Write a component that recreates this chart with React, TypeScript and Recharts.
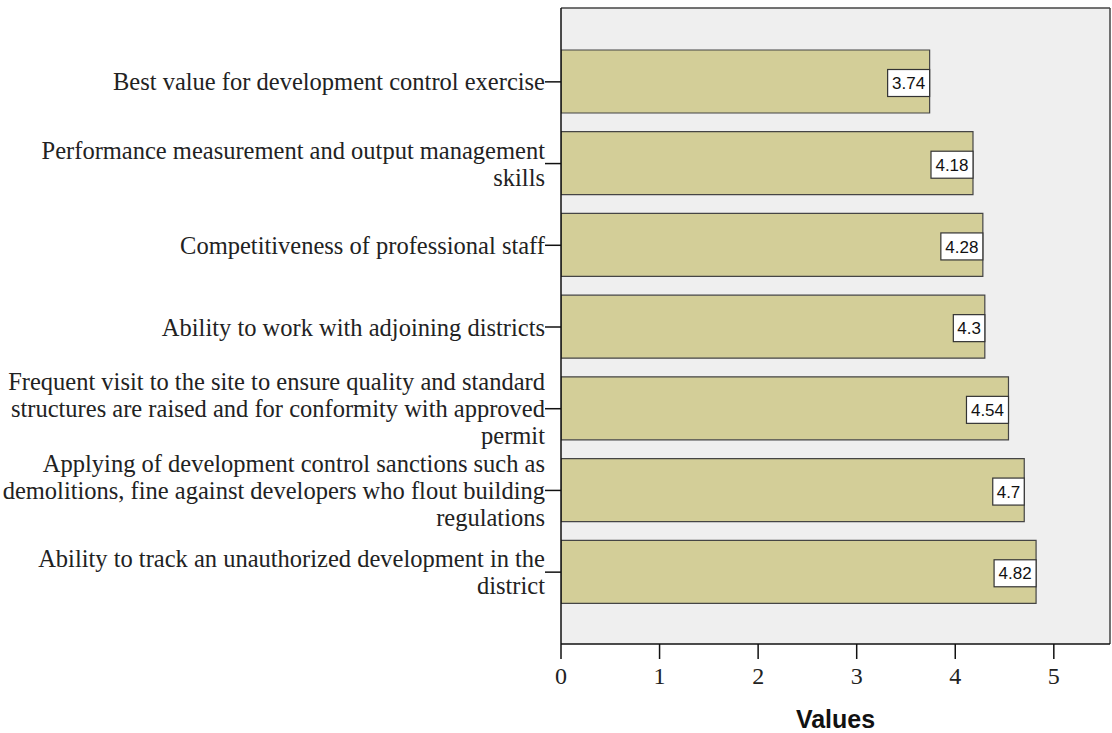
import { BarChart, Bar, XAxis, YAxis, CartesianGrid, LabelList, Label } from 'recharts';

// Item labels, line breaks where the text wraps
const categories = [
  'Best value for development control exercise',
  'Performance measurement and output management\nskills',
  'Competitiveness of professional staff',
  'Ability to work with adjoining districts',
  'Frequent visit to the site to ensure quality and standard\nstructures are raised and for conformity with approved\npermit',
  'Applying of development control sanctions such as\ndemolitions, fine against developers who flout building\nregulations',
  'Ability to track an unauthorized development in the\ndistrict',
];
const values = [3.74, 4.18, 4.28, 4.3, 4.54, 4.7, 4.82];
const xTicks = [0, 1, 2, 3, 4, 5];
const xMax = 5.57;

const data = categories.map((name, i) => ({ name, value: values[i] }));

const SERIF = '"Liberation Serif", "Times New Roman", serif';
const SANS = '"Liberation Sans", Arial, sans-serif';

function CategoryTick(props: any) {
  const { x, y, payload } = props;
  const lines = String(payload.value).split('\n');
  const lh = 27;
  const y0 = y - ((lines.length - 1) * lh) / 2;
  return (
    <text x={x} y={y0} textAnchor="end" fontFamily={SERIF} fontSize={24.5} fill="#222">
      {lines.map((line, i) => (
        <tspan key={i} x={x} y={y0 + i * lh} dy="0.35em">
          {line}
        </tspan>
      ))}
    </text>
  );
}

function ValueTick(props: any) {
  const { x, y, payload } = props;
  return (
    <text x={x} y={y} dy="0.95em" textAnchor="middle" fontFamily={SERIF} fontSize={24} fill="#222">
      {payload.value}
    </text>
  );
}

// white box with the value, tucked inside the end of each bar
function ValueBox(props: any) {
  const { x, y, width, height, value } = props;
  const text = String(value);
  const digits = text.replace('.', '').length;
  const w = 10.5 * (digits + 1);
  const h = 27;
  const right = x + width;
  const cy = y + height / 2 + 1.5;
  return (
    <g>
      <rect x={right - w} y={cy - h / 2} width={w} height={h} fill="#fff" stroke="#333" strokeWidth={1.2} />
      <text x={right - w / 2} y={cy} dy="0.36em" textAnchor="middle" fontFamily={SANS} fontSize={17} fill="#111">
        {text}
      </text>
    </g>
  );
}

export default function App() {
  return (
    <div style={{ position: 'absolute', left: 0, top: 0, background: '#fff' }}>
      <BarChart
        width={1112}
        height={733}
        data={data}
        layout="vertical"
        margin={{ top: 8, right: 2, bottom: 0, left: 0 }}
      >
        {/* grey plot background, plus the top and right edges of the frame */}
        <CartesianGrid
          fill="#efefef"
          stroke="#444"
          strokeWidth={1.5}
          horizontalCoordinatesGenerator={({ offset }: any) => [offset.top]}
          verticalCoordinatesGenerator={({ offset }: any) => [offset.left + offset.width]}
        />
        <XAxis
          type="number"
          domain={[0, xMax]}
          ticks={xTicks}
          allowDataOverflow
          height={89}
          tickSize={15}
          tickMargin={2}
          tick={<ValueTick />}
          axisLine={{ stroke: '#111', strokeWidth: 1.5 }}
          tickLine={{ stroke: '#111', strokeWidth: 1.5 }}
        >
          <Label
            value="Values"
            position="insideBottom"
            offset={5}
            style={{ fontFamily: SANS, fontSize: 25, fontWeight: 700, fill: '#111' }}
          />
        </XAxis>
        <YAxis
          type="category"
          dataKey="name"
          width={561}
          tickSize={16}
          tickMargin={0}
          tick={<CategoryTick />}
          interval={0}
          padding={{ top: 33, bottom: 31 }}
          axisLine={{ stroke: '#111', strokeWidth: 1.5 }}
          tickLine={{ stroke: '#111', strokeWidth: 1.5 }}
        />
        <Bar dataKey="value" fill="#d3ce98" stroke="#454545" strokeWidth={1.2} barSize={63} isAnimationActive={false}>
          <LabelList dataKey="value" content={<ValueBox />} />
        </Bar>
      </BarChart>
    </div>
  );
}
